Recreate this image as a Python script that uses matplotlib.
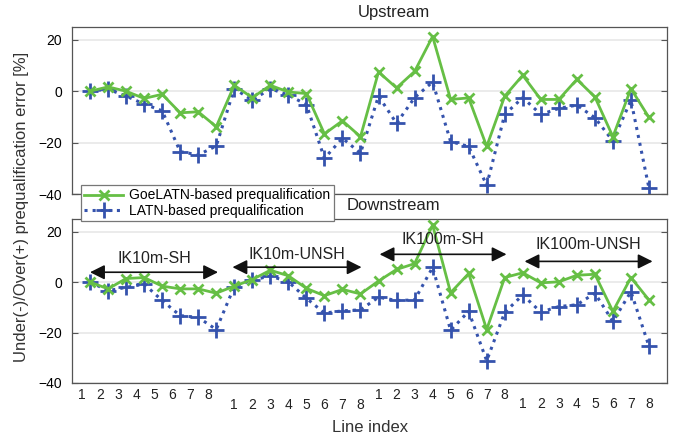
import numpy as np
import matplotlib
matplotlib.use("Agg")
import matplotlib.pyplot as plt
import matplotlib.transforms as mtransforms

plt.rcParams['font.family'] = ['Liberation Sans', 'DejaVu Sans']

# Four line groups, 8 lines each
groups = ['IK10m-SH', 'IK10m-UNSH', 'IK100m-SH', 'IK100m-UNSH']
line_ids = [1, 2, 3, 4, 5, 6, 7, 8]

# Upstream prequalification error [%]
up_goe = [0, 1.7, 0, -2.8, -1.2, -8.4, -8.0, -13.8,
          2.3, -2.5, 2.3, -0.3, -0.9, -16.6, -11.5, -17.7,
          7.5, 1.3, 7.7, 21.3, -3.2, -2.6, -21.5, -1.9,
          6.2, -3.2, -3.2, 4.6, -2.2, -17.7, 1.0, -10.2]
up_latn = [0, 0.8, -1.9, -5.0, -7.6, -23.5, -24.8, -21.3,
           1.0, -3.5, 1.0, -1.5, -5.2, -26.1, -18.3, -24.1,
           -1.9, -12.5, -2.5, 3.6, -19.6, -21.5, -36.6, -9.0,
           -2.5, -9.0, -6.7, -5.4, -10.3, -19.4, -3.5, -37.7]

# Downstream prequalification error [%]
down_goe = [0, -2.7, 1.4, 1.8, -1.6, -2.7, -2.7, -4.4,
            -1.6, 1.0, 4.7, 2.5, -2.5, -5.4, -2.9, -4.7,
            0.4, 5.0, 7.3, 22.6, -4.2, 3.4, -18.8, 1.8,
            3.7, -0.3, 0.1, 2.7, 3.1, -11.6, 1.8, -7.1]
down_latn = [0, -3.4, -2.1, -0.8, -7.3, -13.3, -14.0, -18.8,
             -1.8, 0.8, 2.4, 0.1, -6.4, -12.3, -11.4, -11.0,
             -6.0, -7.3, -7.1, 5.8, -19.1, -11.6, -31.2, -12.0,
             -5.1, -11.9, -9.7, -9.0, -4.4, -15.6, -3.8, -25.4]

GREEN = '#66bf45'
BLUE = '#3553ad'

x = np.arange(len(up_goe))

fig = plt.figure(figsize=(6.75, 4.37), dpi=100)
W, H = 675, 437


def px_axes(left, top, right, bottom):
    return fig.add_axes([left / W, 1 - bottom / H, (right - left) / W, (bottom - top) / H])


ax_up = px_axes(72, 27, 667, 194)
ax_dn = px_axes(72, 219, 667, 383)


def style(ax):
    ax.set_xlim(-1, 32)
    ax.set_ylim(-40, 25)
    ax.set_yticks([-40, -20, 0, 20])
    ax.set_xticks([])
    ax.grid(axis='y', color='#e8e8e8', lw=1.2)
    ax.set_axisbelow(True)
    ax.tick_params(axis='y', direction='in', right=True, length=4, pad=7,
                   labelsize=10, color='#555555')
    for s in ax.spines.values():
        s.set_color('#555555')
        s.set_linewidth(0.9)


for ax, goe, latn in [(ax_up, up_goe, up_latn), (ax_dn, down_goe, down_latn)]:
    style(ax)
    ax.plot(x, goe, '-', color=GREEN, lw=2, marker='x', ms=7, mew=2,
            label='GoeLATN-based prequalification', zorder=3)
    ax.plot(x, latn, ':', color=BLUE, lw=2.2, marker='+', ms=11, mew=2,
            label='LATN-based prequalification', zorder=2)

ax_up.text(0.541, 1.084, 'Upstream', transform=ax_up.transAxes,
           ha='center', va='center', fontsize=12, color='#222222')
ax_dn.text(0.541, 1.085, 'Downstream', transform=ax_dn.transAxes,
           ha='center', va='center', fontsize=12, color='#222222')

# Group arrows in the downstream panel
arrows = [(0, 7.1, 3.9, 9.4), (7.9, 15.06, 5.9, 11.0),
          (16.06, 23.1, 11.0, 16.9), (24.1, 31.2, 8.2, 14.9)]
for name, (x0, x1, ya, yt) in zip(groups, arrows):
    ax_dn.annotate('', xy=(x1, ya), xytext=(x0, ya),
                   arrowprops=dict(arrowstyle='<|-|>', color='#111111', lw=1.2,
                                   mutation_scale=22, shrinkA=0, shrinkB=0))
    ax_dn.text((x0 + x1) / 2, yt, name, ha='center', va='center',
               fontsize=11.5, color='#222222')

# Staggered line-index labels under the bottom panel
trans = mtransforms.blended_transform_factory(ax_dn.transData, fig.transFigure)
offsets = [-0.45, 0, 0, 0]
label_y = [395, 405, 395, 404]
for g in range(len(groups)):
    for k, lid in enumerate(line_ids):
        ax_dn.text(g * 8 + k + offsets[g], 1 - label_y[g] / H, str(lid),
                   transform=trans, ha='center', va='center', fontsize=10,
                   color='#222222', clip_on=False)

fig.text(370 / W, 1 - 427 / H, 'Line index', ha='center', va='center',
         fontsize=12, color='#333333')
fig.text(22 / W, 1 - 207 / H, 'Under(-)/Over(+) prequalification error [%]',
         rotation=90, ha='center', va='center', fontsize=12, color='#333333')

handles, labels = ax_up.get_legend_handles_labels()
leg = fig.legend(handles, labels, loc='upper left',
                 bbox_to_anchor=(81 / W, 1 - 185 / H), borderaxespad=0,
                 fontsize=10, frameon=True, fancybox=False, framealpha=1,
                 edgecolor='#777777', handlelength=2.8, handletextpad=0.4,
                 borderpad=0.25, labelspacing=0.1)
leg.get_frame().set_linewidth(0.9)

fig.savefig('out.png', dpi=100)
